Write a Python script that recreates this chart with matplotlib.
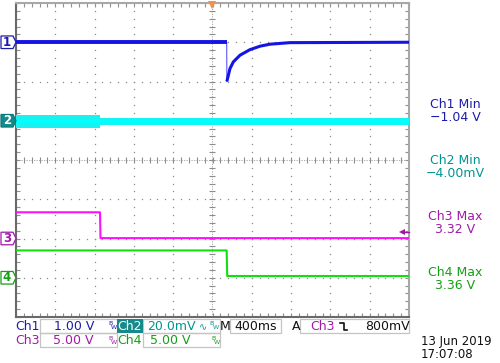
import numpy as np
import matplotlib
matplotlib.use("Agg")
from matplotlib import pyplot as plt
from matplotlib.patches import Polygon, Rectangle
from matplotlib.lines import Line2D

W, H, DPI = 500, 363, 100

# ---- traces (time in s, 400 ms/div, trigger at centre)
ch1_t = [-2.0, 0.144, 0.146, 0.178, 0.212, 0.280, 0.380, 0.484, 0.584, 0.788, 2.0]
ch1_v = [0.0, 0.0, -1.0, -0.67, -0.50, -0.33, -0.19, -0.10, -0.05, -0.01, 0.0]

ch2_t = [-2.0, -1.145, 2.0]
ch2_hi = [2.9, 1.3, 1.3]      # mV, noise envelope
ch2_lo = [-3.8, -2.3, -2.3]

ch3_t = [-2.0, -1.145, -1.140, 2.0]
ch3_v = [3.34, 3.34, 0.05, 0.05]

ch4_t = [-2.0, 0.144, 0.150, 2.0]
ch4_v = [3.48, 3.48, 0.22, 0.22]

channels = ["1", "2", "3", "4"]
scales = [1.0, 20.0, 5.0, 5.0]      # V/div (ch2 in mV/div)
offsets = [3, 1, -2, -3]            # div
trig_level = 0.8                    # V on ch3

trace_colors = ["#1414e6", "#00ffff", "#ff10ff", "#10e010"]
text_colors = ["#1c1caa", "#009494", "#a01aa8", "#14a014"]

meas_names = ["Ch1 Min", "Ch2 Min", "Ch3 Max", "Ch4 Max"]
meas_values = ["\u22121.04 V", "\u22124.00mV", "3.32 V", "3.36 V"]

date_str = "13 Jun 2019"
time_str = "17:07:08"


def to_div(v, i):
    return offsets[i] + np.asarray(v) / scales[i]


def fx(x):
    return x / W


def fy(y):
    return 1 - y / H


fig = plt.figure(figsize=(W / DPI, H / DPI), dpi=DPI)
fig.patch.set_facecolor("white")
ax = fig.add_axes([fx(16), fy(317), 393 / W, 314 / H])
ax.set_xlim(-2.0, 2.0)
ax.set_ylim(-4, 4)

# graticule
ax.set_xticks(np.arange(-2.0, 2.001, 0.08))
ax.set_yticks(np.arange(-4, 4.001, 0.2))
ax.tick_params(direction="in", length=3, width=0.8, color="#909090",
               top=True, right=True, labelbottom=False, labelleft=False)
for side, col in [("left", "#6a6a6a"), ("bottom", "#6a6a6a"),
                  ("top", "#a8a8a8"), ("right", "#a8a8a8")]:
    ax.spines[side].set_color(col)
    ax.spines[side].set_linewidth(1.5)

dot_y = np.arange(-4, 4.001, 0.2)
dot_x = np.arange(-2.0, 2.001, 0.08)
for gx in np.arange(-1.6, 1.61, 0.4):
    if abs(gx) < 1e-6:
        continue
    ax.plot(np.full_like(dot_y, gx), dot_y, ls="none", marker="s", ms=0.9,
            mew=0, color="#8c8c8c", zorder=1)
for gy in range(-3, 4):
    if gy == 0:
        continue
    ax.plot(dot_x, np.full_like(dot_x, gy), ls="none", marker="s", ms=0.9,
            mew=0, color="#8c8c8c", zorder=1)
# centre cross with minor ticks
ax.axhline(0, color="#a0a0a0", lw=0.6, ls=(0, (1.5, 1.5)), zorder=1)
ax.axvline(0, color="#a0a0a0", lw=0.6, ls=(0, (1.5, 1.5)), zorder=1)
ax.plot(dot_x, np.zeros_like(dot_x), ls="none", marker="|", ms=5, mew=0.8,
        color="#8c8c8c", zorder=1)
ax.plot(np.zeros_like(dot_y), dot_y, ls="none", marker="_", ms=5, mew=0.8,
        color="#8c8c8c", zorder=1)

# traces
ax.fill_between(ch2_t, to_div(ch2_lo, 1), to_div(ch2_hi, 1), step="post",
                color="#1af2f2", lw=0, zorder=3)
ax.plot([ch2_t[0], ch2_t[-1]], [offsets[1]] * 2, color=trace_colors[1],
        lw=2.5, zorder=3)
ax.plot(ch3_t, to_div(ch3_v, 2), color=trace_colors[2], lw=1.5, zorder=3)
ax.plot(ch4_t, to_div(ch4_v, 3), color=trace_colors[3], lw=1.5, zorder=3)
ax.plot(ch1_t[1:3], to_div(ch1_v[1:3], 0), color="#6a6aff", lw=0.9, zorder=4)
ax.plot(ch1_t[:2], to_div(ch1_v[:2], 0), color=trace_colors[0], lw=2.8,
        zorder=4, solid_capstyle="butt")
ax.plot(ch1_t[2:], to_div(ch1_v[2:], 0), color=trace_colors[0], lw=2.2,
        zorder=4, solid_capstyle="butt")

# trigger position and level markers
ax.plot(0, 3.94, marker="v", ms=5.5, color="#f5904a", mew=0, clip_on=False,
        zorder=6)
yt = ax.get_yaxis_transform()
ax.plot(0.982, to_div(trig_level, 2), marker="<", ms=5, color="#9a1aa0",
        mew=0, transform=yt, clip_on=False, zorder=6)
ax.plot([0.982, 1.0], [to_div(trig_level, 2)] * 2, color="#9a1aa0", lw=1,
        transform=yt, clip_on=False, zorder=6)

# channel ground markers on the left
for i, name in enumerate(channels):
    y0 = offsets[i]
    h = 0.16
    xs = np.array([-15, -3, 0, -3, -15]) / 393
    ys = [y0 + h, y0 + h, y0, y0 - h, y0 - h]
    selected = i == 1
    ax.add_patch(Polygon(list(zip(xs, ys)), closed=True, transform=yt,
                         clip_on=False, lw=0.9,
                         edgecolor=text_colors[i] if not selected else "#0a7a7a",
                         facecolor="#168a8a" if selected else "white",
                         zorder=6))
    ax.text(-9 / 393, y0, name, transform=yt, ha="center", va="center",
            fontsize=8.5, fontweight="bold", zorder=8,
            color="white" if selected else text_colors[i], clip_on=False)

# measurements on the right
for i in range(4):
    y = 105 + i * 55.7
    fig.text(fx(455), fy(y), meas_names[i], ha="center", va="center",
             fontsize=9, color=text_colors[i])
    fig.text(fx(455), fy(y + 13), meas_values[i], ha="center", va="center",
             fontsize=9, color=text_colors[i])

# readout bar at the bottom
box_col = "#c4c4c4"
for (x0, y0, x1, y1) in [(40, 319, 117, 333), (143, 319, 220, 333),
                         (230, 319, 281, 333), (300, 319, 409, 333),
                         (40, 333, 117, 347), (143, 333, 220, 347)]:
    fig.patches.append(Rectangle((fx(x0), fy(y1)), fx(x1 - x0), (y1 - y0) / H,
                                 transform=fig.transFigure, fill=False,
                                 edgecolor=box_col, lw=0.9))
fig.patches.append(Rectangle((fx(117), fy(333)), fx(26), 14 / H,
                             transform=fig.transFigure, facecolor="#168a8a",
                             edgecolor="none"))


def txt(x, y, s, color, ha="left", size=9):
    fig.text(fx(x), fy(y), s, ha=ha, va="center", fontsize=size, color=color)


def bw(x, y, color):
    txt(x, y - 2.5, "B", color, size=4.5)
    txt(x + 3, y + 1.5, "W", color, size=4.5)


r1, r2 = 326, 341
txt(15, r1, "Ch1", text_colors[0])
txt(74, r1, "1.00 V", text_colors[0], ha="center")
bw(108, r1, text_colors[0])
txt(130, r1, "Ch2", "white", ha="center")
txt(171, r1, "20.0mV", text_colors[1], ha="center")
txt(199, r1 + 1, "\u223f", text_colors[1], size=7)
bw(209.5, r1, text_colors[1])
txt(220, r1, "M", "#101010")
txt(256, r1, "400ms", "#101010", ha="center")
txt(292, r1, "A", "#101010")
txt(310, r1, "Ch3", text_colors[2])
fig.lines.append(Line2D([fx(340), fx(344), fx(344), fx(347)],
                        [fy(323), fy(323), fy(330), fy(330)],
                        transform=fig.transFigure, color="#101010", lw=1.2))
txt(387, r1, "800mV", "#101010", ha="center")

txt(15, r2, "Ch3", text_colors[2])
txt(73, r2, "5.00 V", text_colors[2], ha="center")
bw(108, r2, text_colors[2])
txt(117, r2, "Ch4", text_colors[3])
txt(170, r2, "5.00 V", text_colors[3], ha="center")
bw(211, r2, text_colors[3])

txt(421, 341, date_str, "#101010", size=8.5)
txt(421, 354, time_str, "#101010", size=8.5)

fig.savefig("out.png", dpi=DPI)
